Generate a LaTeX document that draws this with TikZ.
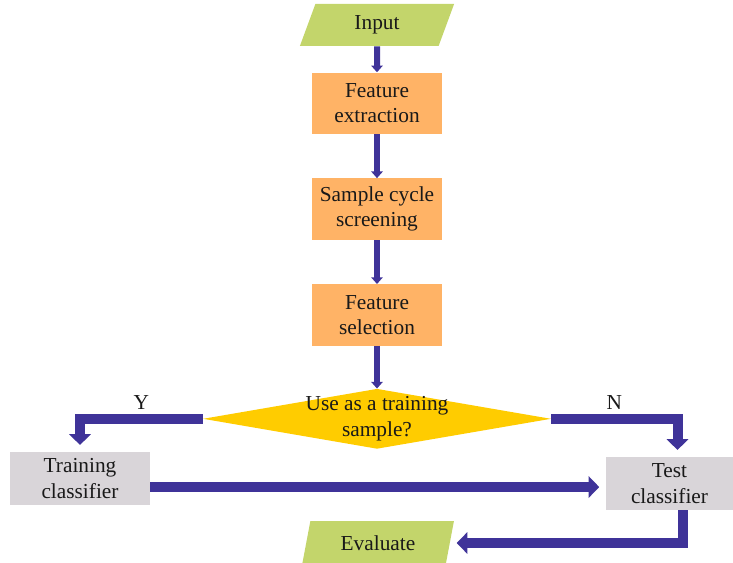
\documentclass[tikz,border=0pt]{standalone}
\usepackage{fontspec}
\setmainfont{Liberation Serif}
\usetikzlibrary{positioning, shapes.geometric, arrows.meta}

\definecolor{iogreen}{HTML}{C3D56B}
\definecolor{steporange}{HTML}{FFB366}
\definecolor{decyellow}{HTML}{FFCC00}
\definecolor{clsgray}{HTML}{D9D5D9}
\definecolor{flowpurple}{HTML}{3F3399}

\tikzset{
	every node/.style={font=\fontsize{16}{19}\selectfont, text=black!90},
	io/.style={trapezium, trapezium left angle=73, trapezium right angle=107,
		trapezium stretches=true, fill=iogreen, minimum width=116pt, minimum height=31.5pt, inner sep=0pt},
	stepbox/.style={rectangle, fill=steporange, minimum width=98pt, minimum height=46pt, align=center, inner sep=2pt},
	clsbox/.style={rectangle, fill=clsgray, minimum height=40pt, align=center, inner sep=2pt},
	flow/.style={draw=flowpurple, line width=4.5pt, -{Triangle[width=8.5pt,length=5pt]}},
	bigflow/.style={draw=flowpurple, line width=7.5pt, -{Triangle[width=16pt,length=8pt]}, shorten >=5pt},
}

\begin{document}
\begin{tikzpicture}[x=0.75pt, y=-0.75pt, node distance=33pt]

		\useasboundingbox (0,0) rectangle (733,563);

		% nodes - main column %
		\node[io] (input) at (377,25) {Input};
		\node[stepbox, below=19.5pt of input] (extract) {Feature\\extraction};
		\node[stepbox, below=33pt of extract] (screen) {Sample cycle\\screening};
		\node[stepbox, below=33pt of screen] (select) {Feature\\selection};
		\node[diamond, fill=decyellow, minimum width=261pt, minimum height=45pt, inner sep=0pt,
			below=32pt of select] (dec) {};
		\node[align=center] (dectext) at (dec) {Use as a training\\sample?};

		% nodes - bottom row %
		\node[clsbox, minimum width=105pt] (train) at (80,478.5) {Training\\classifier};
		\node[clsbox, minimum width=95pt] (test) at (669.5,483.5) {Test\\classifier};
		\node[io, minimum width=114pt, minimum height=33pt] (eval) at (378,543) {Evaluate};

		% edges %
		\draw[flow] (input) -- (extract);
		\draw[flow] (extract) -- (screen);
		\draw[flow] (screen) -- (select);
		\draw[flow] (select) -- (dec);
		\draw[bigflow] (dec.west) -| node[above, pos=0.25] {Y} (train.north);
		\draw[bigflow] (dec.east) -| node[above, pos=0.25] {N} ([xshift=6pt]test.north);
		\draw[bigflow] ([yshift=-6.4pt]train.east) -- ([yshift=-6.4pt]train.east -| test.west);
		\draw[bigflow] ([xshift=10pt]test.south) |- (eval.east);
		\end{tikzpicture}
\end{document}
